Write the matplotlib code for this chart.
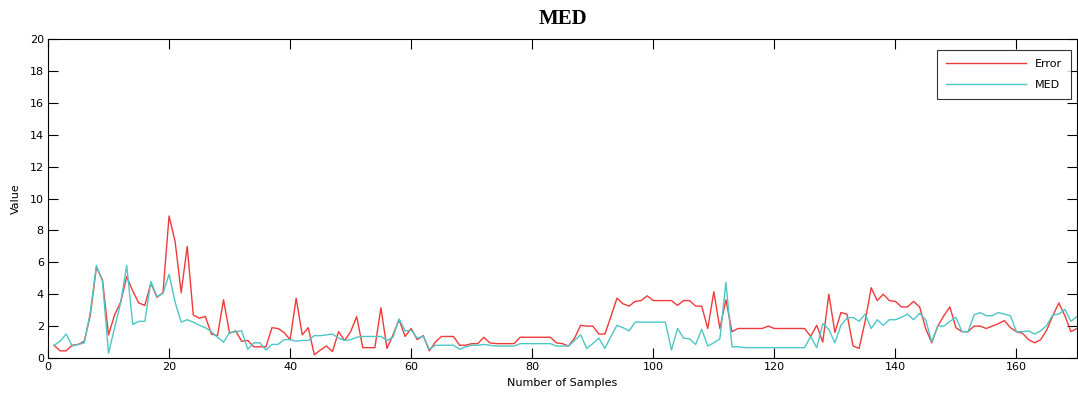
import matplotlib
matplotlib.use("Agg")
import matplotlib.pyplot as plt
import numpy as np

samples = list(range(1, 171))

error = [
    0.8, 0.45, 0.45, 0.8, 0.85, 1.05, 2.7, 5.7, 4.9, 1.45,
    2.7, 3.5, 5.1, 4.2, 3.45, 3.3, 4.7, 3.8, 4.1, 8.9,
    7.3, 4.1, 7.0, 2.7, 2.5, 2.6, 1.5, 1.4, 3.65, 1.55,
    1.7, 1.05, 1.1, 0.7, 0.7, 0.7, 1.9, 1.85, 1.6, 1.15,
    3.75, 1.45, 1.9, 0.2, 0.5, 0.75, 0.4, 1.65, 1.1, 1.65,
    2.6, 0.65, 0.65, 0.65, 3.15, 0.6, 1.45, 2.4, 1.35, 1.85,
    1.15, 1.4, 0.45, 1.0, 1.35, 1.35, 1.35, 0.8, 0.8, 0.9,
    0.9, 1.3, 0.95, 0.9, 0.9, 0.9, 0.9, 1.3, 1.3, 1.3,
    1.3, 1.3, 1.3, 0.95, 0.9, 0.75, 1.25, 2.05, 2.0, 2.0,
    1.5, 1.5, 2.6, 3.75, 3.4, 3.25, 3.55, 3.6, 3.9, 3.6,
    3.6, 3.6, 3.6, 3.3, 3.6, 3.6, 3.25, 3.25, 1.85, 4.15,
    1.85, 3.65, 1.65, 1.85, 1.85, 1.85, 1.85, 1.85, 2.0, 1.85,
    1.85, 1.85, 1.85, 1.85, 1.85, 1.35, 2.05, 1.0, 4.0, 1.6,
    2.85, 2.75, 0.75, 0.6, 2.3, 4.4, 3.6, 4.0, 3.6, 3.55,
    3.2, 3.2, 3.55, 3.2, 1.85, 0.95, 2.0, 2.65, 3.2, 1.9,
    1.65, 1.65, 2.0, 2.0, 1.85, 2.0, 2.15, 2.35, 1.9, 1.65,
    1.55, 1.15, 0.95, 1.15, 1.75, 2.65, 3.45, 2.65, 1.65, 1.85,
]

med = [
    0.8, 1.05, 1.5, 0.75, 0.85, 0.95, 2.9, 5.8, 4.8, 0.3,
    1.9, 3.45, 5.8, 2.1, 2.3, 2.3, 4.8, 3.85, 4.05, 5.25,
    3.5, 2.25, 2.4, 2.25, 2.05, 1.9, 1.65, 1.3, 1.0, 1.6,
    1.65, 1.7, 0.55, 0.95, 0.95, 0.5, 0.85, 0.85, 1.15, 1.15,
    1.05, 1.1, 1.1, 1.4, 1.4, 1.45, 1.5, 1.25, 1.1, 1.15,
    1.3, 1.35, 1.35, 1.35, 1.35, 1.1, 1.3, 2.45, 1.7, 1.75,
    1.25, 1.35, 0.55, 0.8, 0.8, 0.8, 0.8, 0.55, 0.7, 0.8,
    0.8, 0.85, 0.8, 0.75, 0.75, 0.75, 0.75, 0.9, 0.9, 0.9,
    0.9, 0.9, 0.9, 0.75, 0.75, 0.75, 1.1, 1.45, 0.6, 0.9,
    1.25, 0.6, 1.35, 2.05, 1.9, 1.7, 2.25, 2.25, 2.25, 2.25,
    2.25, 2.25, 0.5, 1.85, 1.25, 1.2, 0.85, 1.8, 0.75, 0.95,
    1.2, 4.75, 0.7, 0.7, 0.65, 0.65, 0.65, 0.65, 0.65, 0.65,
    0.65, 0.65, 0.65, 0.65, 0.65, 1.35, 0.65, 2.15, 1.8, 0.95,
    2.05, 2.5, 2.55, 2.3, 2.75, 1.85, 2.4, 2.05, 2.4, 2.4,
    2.55, 2.75, 2.4, 2.8, 2.4, 1.0, 2.0, 2.0, 2.3, 2.55,
    1.65, 1.65, 2.7, 2.85, 2.65, 2.65, 2.85, 2.75, 2.65, 1.65,
    1.65, 1.7, 1.5, 1.7, 2.05, 2.7, 2.75, 3.05, 2.3, 2.6,
]

title = "MED"
xlabel = "Number of Samples"
ylabel = "Value"
series_names = ["Error", "MED"]

fig = plt.figure(figsize=(10.78, 3.96), dpi=100)
fig.patch.set_facecolor("white")
ax = fig.add_axes([48 / 1078, 1 - 358 / 396, (1077 - 48) / 1078, (358 - 39) / 396])

ax.plot(samples, error, color="#f03a3a", lw=1.0, label=series_names[0])
ax.plot(samples, med, color="#4ec6c6", lw=1.0, label=series_names[1])

ax.set_xlim(0, 170)
ax.set_ylim(0, 20)
ax.set_xticks(np.arange(0, 161, 20))
ax.set_yticks(np.arange(0, 21, 2))
ax.tick_params(direction="in", length=7, width=0.8, top=True, right=True,
               labelsize=8, colors="black", pad=3)
for s in ax.spines.values():
    s.set_linewidth(0.8)

ax.set_xlabel(xlabel, fontsize=8, labelpad=4)
ax.set_ylabel(ylabel, fontsize=8, labelpad=6)
ax.set_title(title, fontsize=15, fontweight="bold", family="Liberation Serif", pad=11)

leg = ax.legend(loc="upper right",
                bbox_to_anchor=((1071 - 48) / 1029, (358 - 50) / 319),
                borderaxespad=0.0,
                fontsize=8, frameon=True, fancybox=False, edgecolor="black",
                handlelength=7.2, borderpad=0.8, labelspacing=1.0, handletextpad=0.8)
leg.get_frame().set_linewidth(0.8)

fig.savefig("out.png", dpi=100)
